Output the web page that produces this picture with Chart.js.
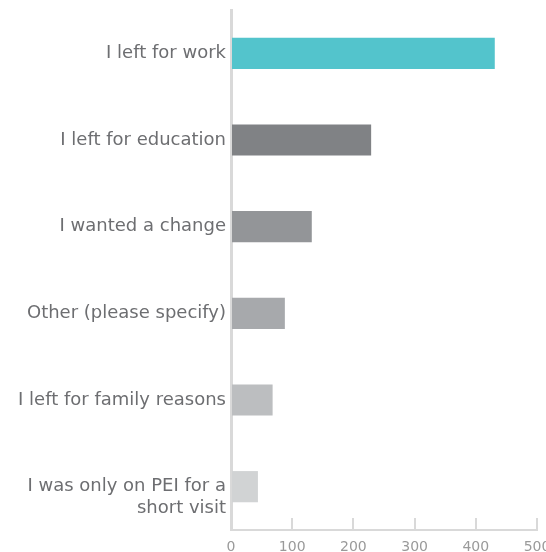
<!DOCTYPE html>
<html>
<head>
<meta charset="utf-8">
<script src="https://cdn.jsdelivr.net/npm/chart.js@4"></script>
<style>
  html, body { margin: 0; padding: 0; background: #fff; overflow: hidden; }
  #wrap { width: 580px; height: 552px; }
</style>
</head>
<body>
<div id="wrap"><canvas id="grafico"></canvas></div>
<script>
// motivos de saída (linha vazia no último rótulo para a 1a linha ficar alinhada com a barra)
var categorias = [
    "I left for work",
    "I left for education",
    "I wanted a change",
    "Other (please specify)",
    "I left for family reasons",
    ["", "I was only on PEI for a", "short visit"]
];
var valores = [431, 229, 132, 88, 68, 44];
var cores = ["#53c4cc", "#808285", "#939598", "#a7a9ac", "#bcbec0", "#d1d3d4"];
var ticksX = [0, 100, 200, 300, 400, 500];

var ctx = document.getElementById("grafico");
new Chart(ctx, {
    type: "bar",
    data: {
        labels: categorias,
        datasets: [{
            data: valores,
            backgroundColor: cores,
            barPercentage: 0.36,
            categoryPercentage: 1
        }]
    },
    options: {
        indexAxis: "y",
        responsive: true,
        maintainAspectRatio: false,
        animation: false,
        layout: { padding: { top: 10, right: 43, left: 0, bottom: 0 } },
        plugins: {
            legend: { display: false },
            tooltip: { enabled: false }
        },
        scales: {
            x: {
                min: 0,
                max: 500,
                afterBuildTicks: function (scale) {
                    scale.ticks = ticksX.map(function (v) { return { value: v }; });
                },
                afterFit: function (scale) { scale.height = 22; },
                grid: {
                    drawOnChartArea: false,
                    drawTicks: true,
                    tickLength: -12,
                    color: "#d9d9d9",
                    lineWidth: 2
                },
                border: { display: true, color: "#d9d9d9", width: 2 },
                ticks: {
                    padding: 21,
                    color: "#9a9a9a",
                    font: { family: "DejaVu Sans", size: 14 }
                }
            },
            y: {
                afterFit: function (scale) {
                    scale.width = 231;
                    scale.paddingTop = 0;
                    scale.paddingBottom = 0;
                },
                grid: { display: false, drawTicks: false },
                border: { display: true, color: "#d9d9d9", width: 3 },
                ticks: {
                    padding: 5,
                    color: "#6d6e71",
                    font: { family: "DejaVu Sans", size: 18 }
                }
            }
        }
    }
});
</script>
</body>
</html>
